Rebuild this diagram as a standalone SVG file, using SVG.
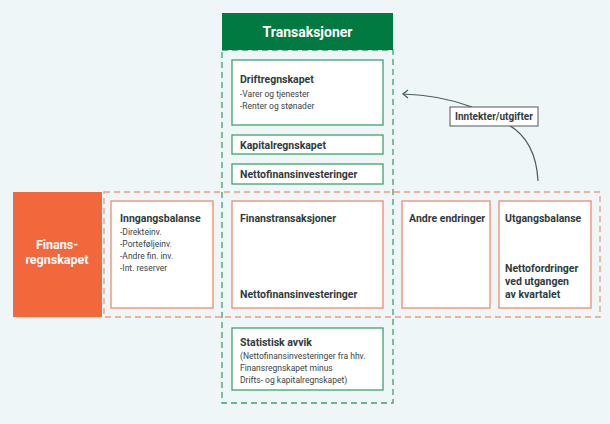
<svg xmlns="http://www.w3.org/2000/svg" width="610" height="424" viewBox="0 0 610 424">
<style>
text{font-family:Roboto,"Liberation Sans",sans-serif;fill:#2f3b3d}
.b{font-weight:bold;font-size:10.5px}
.s{font-size:8.5px;fill:#3a4446}
.g{fill:#fff;stroke:#3fa26a;stroke-width:1.3}
.o{fill:#fff;stroke:#f08a6a;stroke-width:1.3}
</style>
<rect width="610" height="424" fill="#eef6f8"/>
<g id="frames">
<rect x="104" y="192" width="496" height="125" fill="none" stroke="#f39a7c" stroke-width="1.3" stroke-dasharray="6,4"/>
<rect x="222" y="50" width="171" height="353" fill="none" stroke="#3fa26a" stroke-width="1.3" stroke-dasharray="6,4"/>
</g>
<g id="header"><rect x="222" y="13" width="171" height="37" fill="#007a40"/>
<text x="307.5" y="37" text-anchor="middle" style="fill:#fff;font-weight:bold;font-size:14px">Transaksjoner</text></g>
<g id="finans"><rect x="13" y="192" width="89" height="125" fill="#f2683c"/>
<text x="57" y="249" text-anchor="middle" style="fill:#fff;font-weight:bold;font-size:12.5px">Finans-</text>
<text x="57" y="264" text-anchor="middle" style="fill:#fff;font-weight:bold;font-size:12.5px">regnskapet</text></g>
<g id="drift"><rect class="g" x="232" y="60" width="151" height="65"/>
<text class="b" x="240" y="83">Driftregnskapet</text>
<text class="s" x="240" y="97">-Varer og tjenester</text>
<text class="s" x="240" y="109">-Renter og stønader</text></g>
<g id="kapital"><rect class="g" x="232" y="135" width="151" height="19"/>
<text class="b" x="240" y="149">Kapitalregnskapet</text></g>
<g id="netto"><rect class="g" x="232" y="164" width="151" height="20"/>
<text class="b" x="240" y="178">Nettofinansinvesteringer</text></g>
<g id="inngang"><rect class="o" x="111" y="201" width="102" height="107"/>
<text class="b" x="120" y="222">Inngangsbalanse</text>
<text class="s" x="120" y="235">-Direkteinv.</text>
<text class="s" x="120" y="247">-Porteføljeinv.</text>
<text class="s" x="120" y="259">-Andre fin. inv.</text>
<text class="s" x="120" y="271">-Int. reserver</text></g>
<g id="finanstrans"><rect class="o" x="232" y="201" width="151" height="107"/>
<text class="b" x="240" y="222">Finanstransaksjoner</text>
<text class="b" x="240" y="298">Nettofinansinvesteringer</text></g>
<g id="andre"><rect class="o" x="402" y="201" width="88" height="107"/>
<text class="b" x="409" y="222">Andre endringer</text></g>
<g id="utgang"><rect class="o" x="499" y="201" width="92" height="107"/>
<text class="b" x="505" y="222">Utgangsbalanse</text>
<text class="b" x="505" y="272">Nettofordringer</text>
<text class="b" x="505" y="285">ved utgangen</text>
<text class="b" x="505" y="298">av kvartalet</text></g>
<g id="avvik"><rect class="g" x="232" y="328" width="151" height="62"/>
<text class="b" x="240" y="346">Statistisk avvik</text>
<text class="s" x="240" y="359">(Nettofinansinvesteringer fra hhv.</text>
<text class="s" x="240" y="371">Finansregnskapet minus</text>
<text class="s" x="240" y="383">Drifts- og kapitalregnskapet)</text></g>
<g id="connectors" fill="none" stroke="#4a5a5c" stroke-width="1.2">
<path d="M538 181 Q536 140 507 124"/>
<path d="M472 107 Q440 95 403 94"/>
<path d="M408 90 L403 94 L408 98"/>
</g>
<g id="label"><rect x="450" y="107" width="88" height="19" fill="#fff" stroke="#4a5a5c" stroke-width="1"/>
<text class="b" x="494" y="120" text-anchor="middle" style="font-size:10px">Inntekter/utgifter</text></g>
</svg>
